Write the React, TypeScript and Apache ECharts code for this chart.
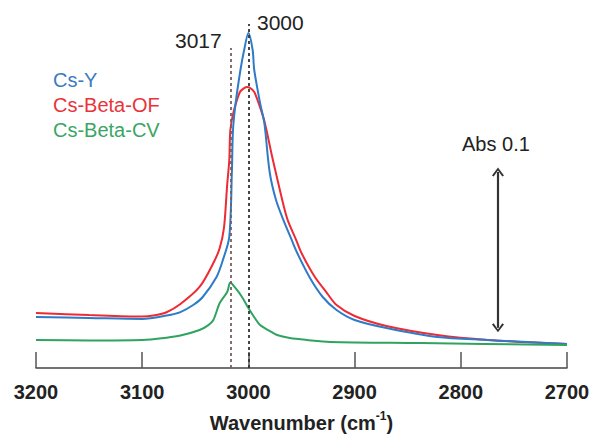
import React, { useEffect, useRef } from "react";
import * as echarts from "echarts";

// Wavenumbers (cm-1) and absorbance values
const csYWn = [3200, 3150, 3100, 3077, 3064, 3052, 3043, 3030, 3024, 3018, 3015.5, 3014.5, 3012, 3007.5, 3004, 3000, 2996, 2994.5, 2989, 2985, 2980, 2974, 2967, 2960, 2954, 2942, 2930, 2917, 2900, 2870, 2822, 2775, 2700];
const csYAbs = [0.0311, 0.0305, 0.0299, 0.032, 0.0341, 0.0384, 0.0433, 0.0555, 0.0659, 0.0799, 0.1207, 0.1451, 0.1616, 0.1817, 0.1939, 0.2043, 0.1939, 0.1817, 0.1616, 0.1494, 0.1195, 0.1024, 0.0902, 0.0793, 0.0701, 0.0549, 0.0433, 0.0354, 0.0293, 0.0244, 0.0189, 0.0171, 0.0146];

const csBetaOFWn = [3200, 3150, 3100, 3088, 3077, 3064, 3046, 3033, 3027, 3023, 3020, 3018, 3017, 3014, 3008, 3004, 3001, 2997, 2994, 2986, 2983, 2978, 2973, 2967, 2963, 2955, 2950, 2938, 2926, 2917, 2900, 2870, 2822, 2775, 2700];
const csBetaOFAbs = [0.0335, 0.0323, 0.0314, 0.0322, 0.034, 0.039, 0.0494, 0.064, 0.0732, 0.0854, 0.1116, 0.1268, 0.1451, 0.1561, 0.1683, 0.1707, 0.1713, 0.1701, 0.1677, 0.153, 0.1451, 0.1299, 0.1159, 0.0994, 0.0902, 0.078, 0.0701, 0.0561, 0.0457, 0.0384, 0.0317, 0.0256, 0.0201, 0.0171, 0.0146];

const csBetaCVWn = [3200, 3150, 3100, 3077, 3064, 3046, 3038, 3033, 3027, 3020, 3017, 3013, 3006, 3000, 2994, 2989, 2980, 2973, 2961, 2945, 2923, 2838, 2700];
const csBetaCVAbs = [0.0171, 0.0168, 0.0171, 0.0185, 0.0198, 0.0232, 0.026, 0.0293, 0.0396, 0.0463, 0.0521, 0.0494, 0.0433, 0.0366, 0.0305, 0.0262, 0.0226, 0.0201, 0.0183, 0.0171, 0.0159, 0.0152, 0.014];

const seriesNames = ["Cs-Y", "Cs-Beta-OF", "Cs-Beta-CV"];
const xTicks = [3200, 3100, 3000, 2900, 2800, 2700];
const peakMarks = [3017, 3000];
const peakTops = [0.1951, 0.2098];
const scaleBarWn = 2765;
const scaleBar = [0.0245, 0.1195];

const FONT = 'Arial, "Liberation Sans", Helvetica, sans-serif';
const BLUE = "#2f7bc8";
const RED = "#ee2a33";
const GREEN = "#2fa35f";

const zip = (xs: number[], ys: number[]) => xs.map((x, i) => [x, ys[i]]);

export default function App() {
  const ref = useRef<HTMLDivElement>(null);
  useEffect(() => {
    if (!ref.current) return;
    const chart = echarts.init(ref.current, null, { renderer: "svg" });
    const chevron = "path://M5,0 L10,7 L8.6,8 L5,2.6 L1.4,8 L0,7 Z";
    chart.setOption({
      animation: false,
      backgroundColor: "#ffffff",
      textStyle: { fontFamily: FONT },
      grid: { left: 36, right: 27, top: 7.2, bottom: 71, containLabel: false, outerBoundsMode: "none" },
      legend: {
        orient: "vertical",
        left: 48,
        top: 70,
        padding: 0,
        icon: "none",
        itemWidth: 0,
        itemHeight: 20,
        itemGap: 5,
        selectedMode: false,
        textStyle: { fontSize: 20, fontFamily: FONT, lineHeight: 20 },
        data: [
          { name: seriesNames[0], textStyle: { color: "#3b7ac4" } },
          { name: seriesNames[1], textStyle: { color: "#e8333b" } },
          { name: seriesNames[2], textStyle: { color: "#3ba564" } },
        ],
      },
      xAxis: {
        type: "value",
        inverse: true,
        min: 2700,
        max: 3200,
        interval: 100,
        splitLine: { show: false },
        axisLine: { show: true, lineStyle: { color: "#444", width: 1.5 } },
        axisTick: { show: true, inside: true, length: 16, lineStyle: { color: "#555", width: 1.5 } },
        axisLabel: {
          margin: 14,
          fontSize: 20,
          fontWeight: "bold",
          color: "#222",
          fontFamily: FONT,
          formatter: (v: number) => (xTicks.includes(v) ? String(v) : ""),
        },
        name: "Wavenumber (cm{sup|-1})",
        nameLocation: "middle",
        nameGap: 42,
        nameTextStyle: {
          fontSize: 20,
          fontWeight: "bold",
          color: "#222",
          fontFamily: FONT,
          lineHeight: 26,
          rich: {
            sup: { fontSize: 12, fontWeight: "bold", color: "#222", verticalAlign: "top", lineHeight: 12, fontFamily: FONT },
          },
        },
      },
      yAxis: { type: "value", min: 0, max: 0.22, show: false },
      series: [
        {
          name: seriesNames[1],
          type: "line",
          data: zip(csBetaOFWn, csBetaOFAbs),
          showSymbol: false,
          smooth: 0.3,
          lineStyle: { color: RED, width: 2 },
          itemStyle: { color: RED },
          z: 2,
        },
        {
          name: seriesNames[0],
          type: "line",
          data: zip(csYWn, csYAbs),
          showSymbol: false,
          smooth: 0.3,
          lineStyle: { color: BLUE, width: 2 },
          itemStyle: { color: BLUE },
          z: 3,
        },
        {
          name: seriesNames[2],
          type: "line",
          data: zip(csBetaCVWn, csBetaCVAbs),
          showSymbol: false,
          smooth: 0.3,
          lineStyle: { color: GREEN, width: 2 },
          itemStyle: { color: GREEN },
          z: 4,
        },
        {
          name: "peak3017",
          type: "line",
          data: [],
          z: 5,
          markLine: {
            silent: true,
            symbol: "none",
            label: { show: false },
            lineStyle: { color: "#7a5e5e", type: [3, 3], width: 1.8 },
            data: [[{ coord: [peakMarks[0], 0] }, { coord: [peakMarks[0], peakTops[0]] }]],
          },
        },
        {
          name: "peak3000",
          type: "line",
          data: [],
          z: 5,
          markLine: {
            silent: true,
            symbol: "none",
            label: { show: false },
            lineStyle: { color: "#333", type: [3, 3], width: 1.8 },
            data: [[{ coord: [peakMarks[1], 0] }, { coord: [peakMarks[1], peakTops[1]] }]],
          },
        },
        {
          name: "scale",
          type: "line",
          data: [],
          markLine: {
            silent: true,
            symbol: [chevron, chevron],
            symbolSize: [12, 9],
            label: { show: false },
            lineStyle: { color: "#333", type: "solid", width: 2.2 },
            itemStyle: { color: "#333" },
            data: [[{ coord: [scaleBarWn, scaleBar[0]] }, { coord: [scaleBarWn, scaleBar[1]] }]],
          },
        },
      ],
      graphic: [
        { type: "text", left: 175, top: 30, style: { text: "3017", fontSize: 21, fill: "#222", fontFamily: FONT } },
        { type: "text", left: 257, top: 12, style: { text: "3000", fontSize: 21, fill: "#222", fontFamily: FONT } },
        { type: "text", left: 462, top: 134, style: { text: "Abs 0.1", fontSize: 20, fill: "#222", fontFamily: FONT } },
      ],
    });
    return () => chart.dispose();
  }, []);
  return <div ref={ref} style={{ position: "absolute", left: 0, top: 0, width: 594, height: 439 }} />;
}
